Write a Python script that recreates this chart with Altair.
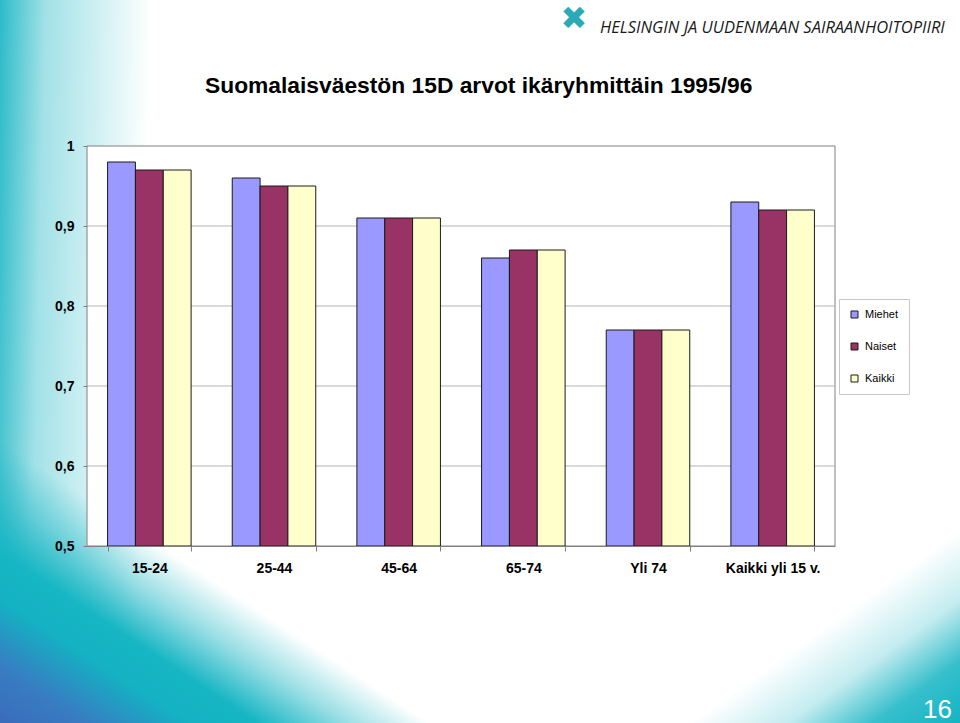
import altair as alt
import pandas as pd

# ---- data ----
categories = ["15-24", "25-44", "45-64", "65-74", "Yli 74", "Kaikki yli 15 v."]
series = ["Miehet", "Naiset", "Kaikki"]
miehet = [0.98, 0.96, 0.91, 0.86, 0.77, 0.93]
naiset = [0.97, 0.95, 0.91, 0.87, 0.77, 0.92]
kaikki = [0.97, 0.95, 0.91, 0.87, 0.77, 0.92]
colors = ["#9999ff", "#993366", "#ffffcc"]
y_ticks = [0.5, 0.6, 0.7, 0.8, 0.9, 1.0]
grid_ticks = [0.6, 0.7, 0.8, 0.9]
title_text = "Suomalaisväestön 15D arvot ikäryhmittäin 1995/96"
logo_text = "HELSINGIN JA UUDENMAAN SAIRAANHOITOPIIRI"
page_number = "16"

rows = []
for s, vals in zip(series, [miehet, naiset, kaikki]):
    for c, v in zip(categories, vals):
        rows.append({"group": c, "series": s, "value": v})
df = pd.DataFrame(rows)

W, H = 748, 400
PL, PT, PR, PB = 87, 146, 125, 177
FONT = "Liberation Sans"

yscale = alt.Scale(domain=[0.5, 1.0], zero=False, nice=False)
yaxis = alt.Axis(
    values=y_ticks, grid=False, domain=False,
    labelExpr="replace(format(datum.value, '.1~f'), '.', ',')",
    labelFont=FONT, labelFontSize=14, labelFontWeight="bold",
    labelColor="black", labelPadding=9, tickSize=4, tickColor="#808080",
    zindex=1,
)

one = alt.Data(values=[{"k": 0}])


def deco_rect(x0, y0, x1, y1, fill):
    """Decorative background rectangle in canvas pixels."""
    return alt.Chart(one).mark_rect(fill=fill, strokeWidth=0).encode(
        x=alt.value(x0 - PL), x2=alt.value(x1 - PL),
        y=alt.value(y0 - PT), y2=alt.value(y1 - PT),
    )


T = "20,180,195"
bg_left = deco_rect(0, 0, 150, 723, {
    "gradient": "linear", "x1": 0, "y1": 0, "x2": 1, "y2": 0.12,
    "stops": [
        {"offset": 0.0, "color": f"rgba({T},0.9)"},
        {"offset": 0.3, "color": f"rgba({T},0.4)"},
        {"offset": 1.0, "color": f"rgba({T},0)"},
    ],
})
bg_bottom_left = deco_rect(0, 440, 430, 723, {
    "gradient": "linear", "x1": 1, "y1": 0, "x2": 0, "y2": 1,
    "stops": [
        {"offset": 0.0, "color": f"rgba({T},0)"},
        {"offset": 0.5, "color": f"rgba({T},0)"},
        {"offset": 0.6, "color": f"rgba({T},0.45)"},
        {"offset": 0.7, "color": "rgba(22,182,196,1)"},
        {"offset": 0.78, "color": "rgba(20,178,195,1)"},
        {"offset": 0.9, "color": "rgba(56,124,194,1)"},
        {"offset": 1.0, "color": "rgba(58,108,188,1)"},
    ],
})
bg_bottom_right = deco_rect(690, 530, 960, 723, {
    "gradient": "linear", "x1": 0, "y1": 0, "x2": 1, "y2": 1,
    "stops": [
        {"offset": 0.0, "color": f"rgba({T},0)"},
        {"offset": 0.5, "color": f"rgba({T},0)"},
        {"offset": 0.68, "color": f"rgba({T},0.25)"},
        {"offset": 0.84, "color": f"rgba({T},0.85)"},
        {"offset": 1.0, "color": f"rgba({T},1)"},
    ],
})

plot_bg = alt.Chart(one).mark_rect(
    fill="white", stroke="#808080", strokeWidth=1
).encode(x=alt.value(0), x2=alt.value(W), y=alt.value(0), y2=alt.value(H))

grid = alt.Chart(pd.DataFrame({"value": grid_ticks})).mark_rule(
    color="#b4b4b4", strokeWidth=1
).encode(
    y=alt.Y("value:Q", scale=yscale, axis=yaxis, title=None),
    x=alt.value(0), x2=alt.value(W),
)

bars = alt.Chart(df).mark_bar(stroke="#1a1a1a", strokeWidth=1).encode(
    x=alt.X(
        "group:N", sort=categories, title=None,
        scale=alt.Scale(paddingInner=0.33, paddingOuter=0.165),
        axis=alt.Axis(
            labelAngle=0, labelFont=FONT, labelFontSize=14, labelFontWeight="bold",
            labelColor="black", labelPadding=10, tickBand="extent", tickSize=5,
            tickColor="#808080", domainColor="#808080", zindex=1, grid=False,
        ),
    ),
    xOffset=alt.XOffset("series:N", sort=series,
                        scale=alt.Scale(paddingInner=0, paddingOuter=0)),
    y=alt.Y("value:Q", scale=yscale, title=None, axis=yaxis),
    y2=alt.datum(0.5),
    color=alt.Color(
        "series:N", sort=series,
        scale=alt.Scale(domain=series, range=colors),
        legend=alt.Legend(
            title=None, orient="none", legendX=752, legendY=153,
            fillColor="white", strokeColor="#c8c8c8", padding=10,
            symbolType="square", symbolSize=49, symbolStrokeColor="#1a1a1a",
            symbolStrokeWidth=1, labelFont=FONT, labelFontSize=11,
            labelColor="black", rowPadding=20, labelOffset=5, zindex=1,
        ),
    ),
)

title = alt.Chart(one).mark_text(
    text=title_text, font=FONT, fontSize=22.8, fontWeight="bold",
    align="left", baseline="alphabetic", color="black",
).encode(x=alt.value(118), y=alt.value(-53))

logo_mark = alt.Chart(one).mark_text(
    text="✖", font="DejaVu Sans", fontSize=32, color="#2aa9b6",
    align="center", baseline="middle",
).encode(x=alt.value(487), y=alt.value(-127))

logo = alt.Chart(one).mark_text(
    text=logo_text, font="Open Sans", fontSize=16.5, fontStyle="italic",
    color="#1a1a1a", align="left", baseline="alphabetic",
).encode(x=alt.value(513), y=alt.value(-113))

page = alt.Chart(one).mark_text(
    text=page_number, font=FONT, fontSize=26, color="white",
    align="right", baseline="alphabetic",
).encode(x=alt.value(865), y=alt.value(572))

chart = alt.layer(
    bg_left, bg_bottom_left, bg_bottom_right, plot_bg, grid, bars,
    title, logo_mark, logo, page,
).properties(
    width=W, height=H,
    autosize=alt.AutoSizeParams(type="none"),
    padding={"left": PL, "top": PT, "right": PR, "bottom": PB},
    background="white",
).configure_view(stroke=None)

chart.save("out.html", embed_options={"renderer": "svg", "actions": False})
